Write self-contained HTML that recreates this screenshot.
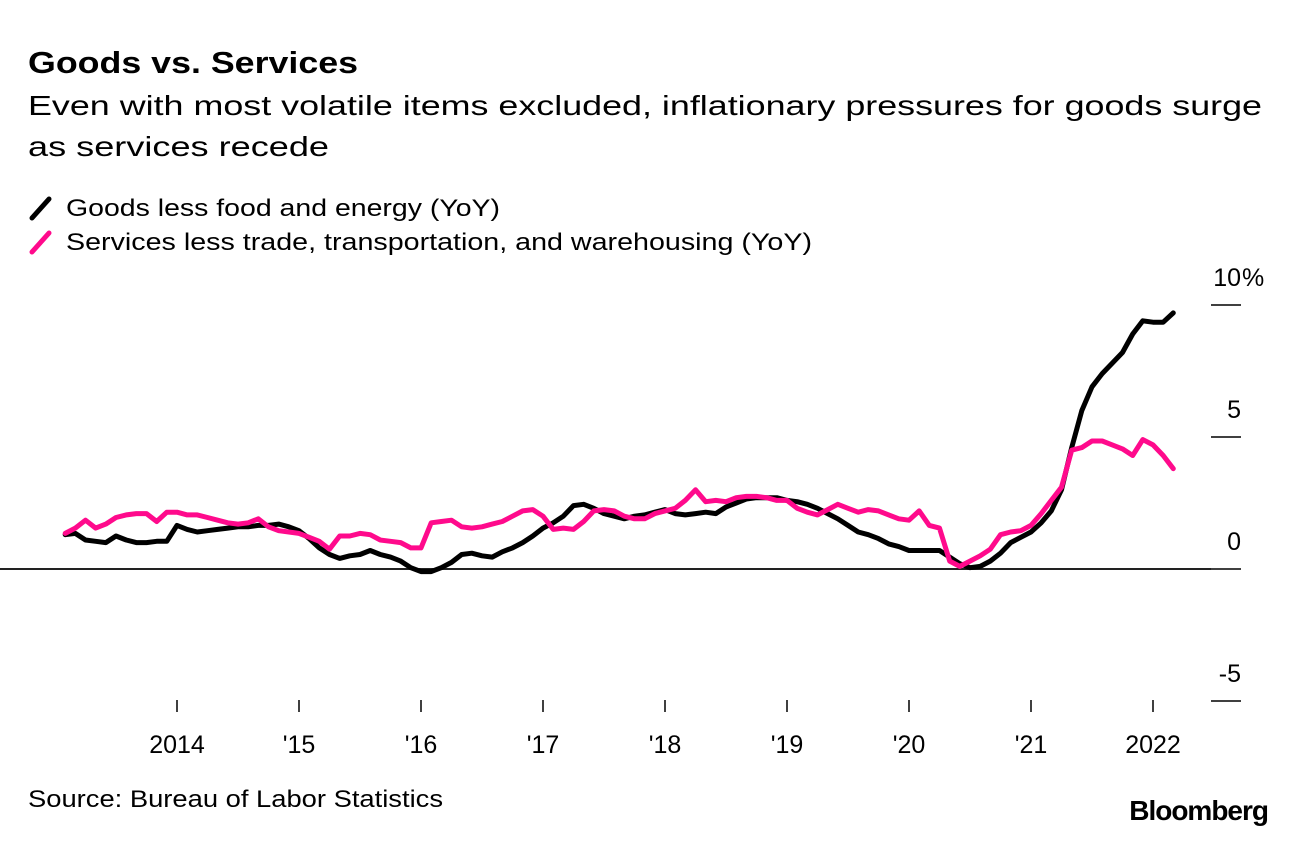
<!DOCTYPE html>
<html><head><meta charset="utf-8">
<style>
body{margin:0;background:#fff;width:1296px;height:838px;overflow:hidden;font-family:"Liberation Sans",Arial,sans-serif;}
svg text{font-family:"Liberation Sans",Arial,sans-serif;}
</style></head>
<body>
<svg width="1296" height="838">
<text x="28" y="73" font-size="31" font-weight="bold" fill="#000" textLength="330" lengthAdjust="spacingAndGlyphs">Goods vs. Services</text>
<text x="28" y="115" font-size="28" fill="#000" textLength="1234" lengthAdjust="spacingAndGlyphs">Even with most volatile items excluded, inflationary pressures for goods surge</text>
<text x="28" y="156" font-size="28" fill="#000" textLength="301" lengthAdjust="spacingAndGlyphs">as services recede</text>
<g>
<line x1="32" y1="218" x2="49" y2="199" stroke="#000" stroke-width="5" stroke-linecap="round"/>
<text x="66" y="216" font-size="24" fill="#000" textLength="434" lengthAdjust="spacingAndGlyphs">Goods less food and energy (YoY)</text></g>
<g>
<line x1="32" y1="252" x2="49" y2="233" stroke="#ff0a8c" stroke-width="5" stroke-linecap="round"/>
<text x="66" y="250" font-size="24" fill="#000" textLength="746" lengthAdjust="spacingAndGlyphs">Services less trade, transportation, and warehousing (YoY)</text></g>
<g id="yaxis"></g>
<g id="xaxis"></g>
<g id="series"></g>
<text x="28" y="807" font-size="24" fill="#000" textLength="415" lengthAdjust="spacingAndGlyphs">Source: Bureau of Labor Statistics</text>
<text x="1268" y="820" font-size="28" font-weight="bold" fill="#000" text-anchor="end" letter-spacing="-1">Bloomberg</text>
</svg>
<script>
const yTicks=[10,5,0,-5];
const yTickLabels=["10","5","0","-5"];
const xTickYears=[2014,2015,2016,2017,2018,2019,2020,2021,2022];
const xTickLabels=["2014","'15","'16","'17","'18","'19","'20","'21","2022"];
const startYear=2013, startMonth=1; // Feb 2013 (0-based month)
const goods=[1.3,1.35,1.1,1.05,1.0,1.25,1.1,1.0,1.0,1.05,1.05,
1.65,1.5,1.4,1.45,1.5,1.55,1.6,1.6,1.65,1.65,1.7,1.6,
1.45,1.15,0.8,0.55,0.4,0.5,0.55,0.7,0.55,0.45,0.3,0.05,
-0.1,-0.1,0.05,0.25,0.55,0.6,0.5,0.45,0.65,0.8,1.0,1.25,
1.55,1.75,2.0,2.4,2.45,2.3,2.1,2.0,1.9,2.0,2.05,2.15,
2.25,2.1,2.05,2.1,2.15,2.1,2.35,2.5,2.65,2.7,2.7,2.7,
2.6,2.55,2.45,2.3,2.1,1.9,1.65,1.4,1.3,1.15,0.95,0.85,
0.7,0.7,0.7,0.7,0.45,0.2,0.05,0.1,0.3,0.6,1.0,1.2,
1.4,1.75,2.2,3.0,4.6,6.0,6.9,7.4,7.8,8.2,8.9,9.4,
9.35,9.35,9.7];
const services=[1.35,1.55,1.85,1.55,1.7,1.95,2.05,2.1,2.1,1.8,2.15,
2.15,2.05,2.05,1.95,1.85,1.75,1.7,1.75,1.9,1.6,1.45,1.4,
1.35,1.2,1.05,0.75,1.25,1.25,1.35,1.3,1.1,1.05,1.0,0.8,
0.8,1.75,1.8,1.85,1.6,1.55,1.6,1.7,1.8,2.0,2.2,2.25,
2.0,1.5,1.55,1.5,1.8,2.2,2.25,2.2,2.0,1.9,1.9,2.1,
2.2,2.3,2.6,3.0,2.55,2.6,2.55,2.7,2.75,2.75,2.7,2.6,
2.6,2.3,2.15,2.05,2.25,2.45,2.3,2.15,2.25,2.2,2.05,1.9,
1.85,2.2,1.65,1.55,0.3,0.1,0.3,0.5,0.75,1.3,1.4,1.45,
1.65,2.1,2.6,3.1,4.5,4.6,4.85,4.85,4.7,4.55,4.3,4.9,
4.7,4.3,3.8];
const NS="http://www.w3.org/2000/svg";
function yS(v){return 569-v*26.4;}
function xS(yearFrac){return 177+(yearFrac-2014)*122;}
function mk(t,a,p){const e=document.createElementNS(NS,t);for(const k in a)e.setAttribute(k,a[k]);p.appendChild(e);return e;}
const ya=document.getElementById('yaxis');
yTicks.forEach((v,i)=>{
 const l=mk('line',{x1:1211,x2:1241,y1:yS(v),y2:yS(v),stroke:'#000','stroke-width':1.5},ya);
 
 
 const t=mk('text',{x:1241,y:yS(v)-19,'font-size':25,'text-anchor':'end',fill:'#000'},ya);
 t.textContent=yTickLabels[i];
 
 
});
const pct=mk('text',{x:1242,y:yS(10)-19,'font-size':25,fill:'#000'},ya);
pct.textContent='%';


const z=mk('line',{x1:0,x2:1211,y1:yS(0),y2:yS(0),stroke:'#222','stroke-width':2},ya);


const xa=document.getElementById('xaxis');
xTickYears.forEach((yr,i)=>{
 const x=xS(yr);
 const l=mk('line',{x1:x,x2:x,y1:700,y2:712,stroke:'#000','stroke-width':1.5},xa);
 
 
 const t=mk('text',{x:x,y:753,'font-size':25,'text-anchor':'middle',fill:'#000'},xa);
 t.textContent=xTickLabels[i];
 
 
});
const sg=document.getElementById('series');
function pts(arr){return arr.map((v,i)=>{const m=startMonth+i;return xS(startYear+m/12).toFixed(1)+','+yS(v).toFixed(1);}).join(' ');}
const ps=mk('polyline',{points:pts(services),fill:'none',stroke:'#ff0a8c','stroke-width':5,'stroke-linejoin':'round','stroke-linecap':'round'},sg);


const pg=mk('polyline',{points:pts(goods),fill:'none',stroke:'#000','stroke-width':5,'stroke-linejoin':'round','stroke-linecap':'round'},sg);


sg.appendChild(ps);
</script>
</body></html>
